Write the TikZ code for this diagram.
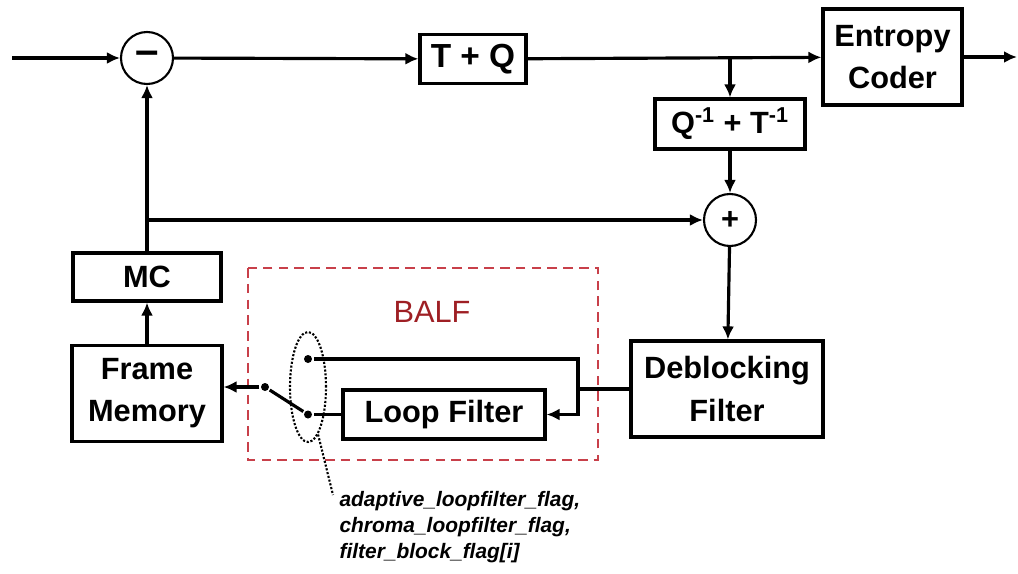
\documentclass[tikz,border=0pt]{standalone}
\usepackage{fontspec}
\setmainfont{Liberation Sans}
\usepackage{xcolor}
\definecolor{balfRed}{HTML}{C8404A}
\definecolor{balfText}{HTML}{9E1F24}
\usetikzlibrary{arrows.meta, positioning, shapes.geometric}

\begin{document}
\begin{tikzpicture}[
  line width=1.8pt,
  box/.style={draw, line width=1.8pt, minimum height=0.98cm, inner sep=0pt, align=center,
    font=\fontsize{17.5}{24}\selectfont\bfseries},
  sumnode/.style={draw, circle, line width=1.2pt, minimum size=1.04cm, inner sep=0pt,
    font=\fontsize{17.5}{20}\selectfont\bfseries},
  arr/.style={-{Latex[length=2.6mm, width=2.4mm]}},
  contact/.style={circle, fill, inner sep=0pt, minimum size=1.6mm},
]
  \useasboundingbox (0,0) rectangle (20.36,-11.46);

  % forward path
  \coordinate (in) at (0.24,-1.16);
  \node[sumnode] (sub) at (2.94,-1.16) {\raisebox{-1.5pt}{\fontsize{24}{24}\selectfont --}};
  \node[box, minimum width=2.12cm, font=\fontsize{19}{24}\selectfont\bfseries] (tq) at (9.46,-1.18) {T + Q};
  \node[box, minimum width=2.78cm, minimum height=1.92cm] (ec) at (17.85,-1.14) {Entropy\\Coder};
  \coordinate (out) at (20.34,-1.14);
  \coordinate (br) at (14.6,-1.16);

  % reconstruction
  \node[box, minimum width=3.0cm, minimum height=1.0cm] (iq) at (14.6,-2.48) {Q\textsuperscript{-1} + T\textsuperscript{-1}};
  \node[sumnode] (add) at (14.6,-4.4) {+};
  \node[box, minimum width=3.84cm, minimum height=1.92cm] (db) at (14.54,-7.78) {Deblocking\\Filter};

  % prediction
  \node[box, minimum width=2.96cm, minimum height=0.96cm] (mc) at (2.94,-5.54) {MC};
  \node[box, minimum width=3.0cm, minimum height=1.92cm, below=0.82cm of mc] (fm) {Frame\\Memory};

  % BALF
  \draw[balfRed, line width=1.4pt, dash pattern=on 5.5pt off 3.5pt] (4.96,-5.36) rectangle (11.96,-9.2);
  \node[text=balfText, font=\fontsize{17.5}{20}\selectfont] (balf) at (8.64,-6.24) {BALF};
  \node[box, minimum width=4.04cm] (lf) at (8.88,-8.29) {Loop Filter};
  \coordinate (jn) at (11.56,-7.78);
  \node[contact] (c1) at (6.16,-7.18) {};
  \node[contact] (c2) at (6.16,-8.29) {};
  \node[contact] (piv) at (5.3,-7.74) {};
  \node[draw, ellipse, densely dotted, line width=1.2pt, minimum width=0.72cm, minimum height=2.2cm] (sel) at (6.16,-7.74) {};
  \node[anchor=north west, align=left, inner sep=0pt,
    font=\fontsize{11.9}{14.8}\selectfont\bfseries\itshape] (flags) at (6.76,-9.8)
    {adaptive\_loopfilter\_flag,\\chroma\_loopfilter\_flag,\\filter\_block\_flag[i]};
  \coordinate (tip) at (6.66,-9.9);

  \draw[arr] (in) -- (sub);
  \draw[arr] (sub) -- (tq);
  \draw[arr] (tq) -- (ec);
  \draw[arr] (ec) -- (out);
  \draw[arr] (br) -- (iq);
  \draw[arr] (iq) -- (add);
  \draw[arr] (add) -- (db);
  \draw (db.west) -- (jn);
  \draw (jn) |- (c1);
  \draw[arr] (jn) |- (lf.east);
  \draw (lf.west) -- (c2);
  \draw (piv) -- (c2);
  \draw[arr] (piv) -- (fm.east |- piv);
  \draw[arr] (fm) -- (mc);
  \draw[arr] (mc) -- (sub);
  \draw[arr] (mc.north |- add) -- (add);
  \draw[densely dotted, line width=1.2pt] (sel.-78) -- (tip);
\end{tikzpicture}
\end{document}
